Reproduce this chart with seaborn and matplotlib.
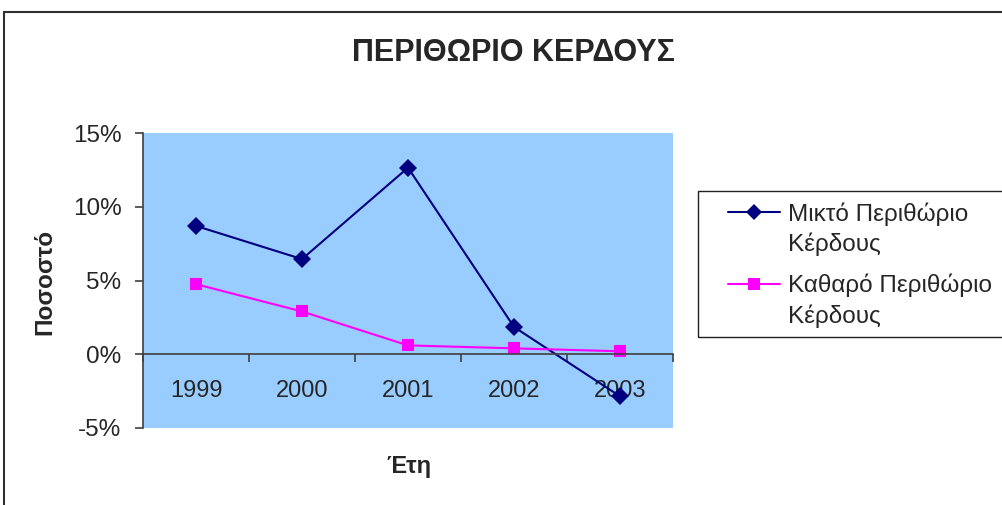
import matplotlib
matplotlib.use("Agg")
import matplotlib.pyplot as plt
from matplotlib.patches import Rectangle
from matplotlib.ticker import FixedLocator, FuncFormatter
import seaborn as sns
import pandas as pd

# Data: profit margins per year (%)
years = ["1999", "2000", "2001", "2002", "2003"]
gross_margin = [8.7, 6.45, 12.65, 1.85, -2.85]
net_margin = [4.75, 2.9, 0.6, 0.4, 0.2]
series_names = ["Μικτό Περιθώριο\nΚέρδους", "Καθαρό Περιθώριο\nΚέρδους"]

title = "ΠΕΡΙΘΩΡΙΟ ΚΕΡΔΟΥΣ"
xlabel = "Έτη"
ylabel = "Ποσοστό"
yticks = [-5, 0, 5, 10, 15]

df = pd.DataFrame({
    "pos": list(range(len(years))) * 2,
    "value": gross_margin + net_margin,
    "series": [series_names[0]] * len(years) + [series_names[1]] * len(years),
})

sns.set_theme(style="white")
plt.rcParams["font.family"] = ["Liberation Sans", "DejaVu Sans"]

fig = plt.figure(figsize=(10.02, 5.05), dpi=100)
ax = fig.add_axes([143 / 1002, 1 - 428 / 505, 530 / 1002, 295 / 505])
ax.set_facecolor("#99CCFF")

sns.lineplot(
    data=df, x="pos", y="value", hue="series", style="series",
    palette=["#000080", "#FF00FF"], markers=["D", "s"], dashes=False,
    markersize=9, linewidth=1.5, markeredgewidth=0, ax=ax,
)

ax.set_xlim(-0.5, len(years) - 0.5)
ax.set_ylim(min(yticks), max(yticks))

# Spines: left axis plus a category axis crossing at zero
for side in ["top", "right"]:
    ax.spines[side].set_visible(False)
ax.spines["left"].set_color("#404040")
ax.spines["left"].set_linewidth(1.2)
ax.spines["bottom"].set_position(("data", 0))
ax.spines["bottom"].set_color("#404040")
ax.spines["bottom"].set_linewidth(1.2)

ax.set_yticks(yticks)
ax.yaxis.set_major_formatter(FuncFormatter(lambda v, _: f"{v:.0f}%"))
ax.tick_params(axis="y", direction="out", length=5.5, width=1.2, color="#404040",
               pad=10, labelsize=17.5, left=True)

# Category boundaries as major ticks, year labels as minor ticks
ax.xaxis.set_major_locator(FixedLocator([i - 0.5 for i in range(len(years) + 1)]))
ax.xaxis.set_major_formatter(FuncFormatter(lambda v, _: ""))
ax.xaxis.set_minor_locator(FixedLocator(list(range(len(years)))))
ax.set_xticklabels(years, minor=True)
ax.tick_params(axis="x", which="major", direction="out", length=5.5, width=1.2,
               color="#404040", bottom=True)
ax.tick_params(axis="x", which="minor", length=0, pad=18.5, labelsize=17, bottom=True)

ax.set_xlabel("")
ax.set_ylabel("")
fig.text(409 / 1002, 1 - 467 / 505, xlabel, ha="center", va="center",
         fontsize=17, fontweight="bold")
fig.text(45 / 1002, 1 - 282 / 505, ylabel, ha="center", va="center",
         rotation=90, fontsize=17.5, fontweight="bold")
fig.text(513 / 1002, 1 - 53 / 505, title, ha="center", va="center",
         fontsize=22, fontweight="bold")

# Legend (its box runs off the right edge of the chart area)
legend_size = 17.5
text_spacing = 1.38
leg = ax.legend(
    title=None, loc="upper left", bbox_to_anchor=(728 / 1002, 1 - 202 / 505),
    bbox_transform=fig.transFigure, frameon=False,
    fontsize=legend_size, handlelength=2.15, handletextpad=0.3,
    labelspacing=0.72, borderpad=0, borderaxespad=0,
)
for txt in leg.get_texts():
    txt.set_linespacing(text_spacing)
# Align each legend key with the first line of its two-line label
for handle in leg.legend_handles:
    handle.set_ydata(handle.get_ydata() + legend_size * text_spacing / 2)
    handle.set_markersize(8)

fig.patches.append(Rectangle((698 / 1002, 1 - 337 / 505), 0.5, 146 / 505,
                             transform=fig.transFigure, fill=False,
                             edgecolor="#202020", linewidth=1.0))

# Chart-area border
fig.patches.append(Rectangle((4 / 1002, -0.05), 1.1, 1 - 12 / 505 + 0.05,
                             transform=fig.transFigure, fill=False,
                             edgecolor="#303030", linewidth=1.5))

fig.savefig("out.png", dpi=100)
